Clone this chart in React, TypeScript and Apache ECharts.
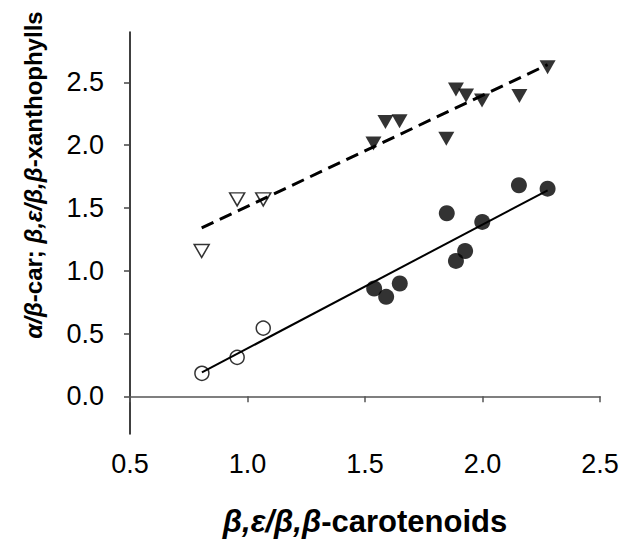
import React, { useEffect, useRef } from "react";
import * as echarts from "echarts";

const xTicks = [0.5, 1.0, 1.5, 2.0, 2.5];
const yTicks = [0.0, 0.5, 1.0, 1.5, 2.0, 2.5];

const openCircleX = [0.806, 0.956, 1.067];
const openCircleY = [0.183, 0.31, 0.543];

const filledCircleX = [1.539, 1.59, 1.648, 1.848, 1.887, 1.926, 1.999, 2.155, 2.277];
const filledCircleY = [0.858, 0.792, 0.898, 1.457, 1.078, 1.157, 1.388, 1.68, 1.653];

const openTriangleX = [0.805, 0.956, 1.067];
const openTriangleY = [1.157, 1.568, 1.568];

const filledTriangleX = [1.536, 1.587, 1.647, 1.846, 1.887, 1.93, 1.998, 2.157, 2.277];
const filledTriangleY = [2.013, 2.183, 2.19, 2.051, 2.443, 2.395, 2.355, 2.39, 2.62];

const solidFitX = [0.806, 2.277];
const solidFitY = [0.19, 1.64];

const dashedFitX = [0.805, 2.277];
const dashedFitY = [1.34, 2.64];

const zip = (xs: number[], ys: number[]) => xs.map((x, i) => [x, ys[i]]);

export default function App() {
  const ref = useRef<HTMLDivElement>(null);
  useEffect(() => {
    if (!ref.current) return;
    const chart = echarts.init(ref.current, null, { renderer: "svg" });
    const font = "'Liberation Sans', Arial, sans-serif";
    chart.setOption({
      animation: false,
      backgroundColor: "#fff",
      grid: { left: 130, right: 22, top: 32, bottom: 107 },
      xAxis: {
        type: "value",
        min: 0.5,
        max: 2.5,
        interval: 0.5,
        splitLine: { show: false },
        axisLine: { lineStyle: { color: "#555", width: 1.5 } },
        axisTick: { show: true, length: 6, lineStyle: { color: "#555", width: 1.5 } },
        axisLabel: {
          margin: 16,
          fontSize: 27,
          fontFamily: font,
          color: "#000",
          formatter: (v: number) => v.toFixed(1),
        },
        name: "{i|β,ε/β,β}{b|-carotenoids}",
        nameLocation: "middle",
        nameGap: 72,
        nameTextStyle: {
          fontFamily: font,
          rich: {
            i: { fontSize: 31, fontWeight: "bold", fontStyle: "italic", fontFamily: font, color: "#000" },
            b: { fontSize: 31, fontWeight: "bold", fontFamily: font, color: "#000" },
          },
        },
      },
      yAxis: {
        type: "value",
        min: -0.3,
        max: 2.9,
        splitLine: { show: false },
        axisLine: { show: true, lineStyle: { color: "#000", width: 1.5 } },
        axisTick: { show: true, length: 6, customValues: yTicks, lineStyle: { color: "#444", width: 1.5 } },
        axisLabel: {
          margin: 26,
          fontSize: 27,
          fontFamily: font,
          color: "#000",
          customValues: yTicks,
          formatter: (v: number) => v.toFixed(1),
        },
      },
      graphic: [
        {
          type: "text",
          x: 33,
          y: 175,
          rotation: Math.PI / 2,
          style: {
            text: "{i|α/β}{b|-car; }{i|β,ε/β,β}{b|-xanthophylls}",
            align: "center",
            verticalAlign: "middle",
            rich: {
              i: { fontSize: 24, fontWeight: "bold", fontStyle: "italic", fontFamily: font, fill: "#000" },
              b: { fontSize: 24, fontWeight: "bold", fontFamily: font, fill: "#000" },
            },
          },
        },
      ],
      series: [
        {
          type: "scatter",
          data: zip(openCircleX, openCircleY),
          symbol: "circle",
          symbolSize: 14,
          itemStyle: { color: "#fff", borderColor: "#000", borderWidth: 1.5 },
          z: 2,
        },
        {
          type: "scatter",
          data: zip(filledCircleX, filledCircleY),
          symbol: "circle",
          symbolSize: 16,
          itemStyle: { color: "#000" },
          z: 2,
        },
        {
          type: "scatter",
          data: zip(openTriangleX, openTriangleY),
          symbol: "triangle",
          symbolRotate: 180,
          symbolSize: [15, 13],
          itemStyle: { color: "#fff", borderColor: "#000", borderWidth: 1.5 },
          z: 2,
        },
        {
          type: "scatter",
          data: zip(filledTriangleX, filledTriangleY),
          symbol: "triangle",
          symbolRotate: 180,
          symbolSize: [16, 14],
          itemStyle: { color: "#000" },
          z: 2,
        },
        {
          type: "line",
          data: zip(solidFitX, solidFitY),
          showSymbol: false,
          lineStyle: { color: "#000", width: 2 },
          z: 3,
        },
        {
          type: "line",
          data: zip(dashedFitX, dashedFitY),
          showSymbol: false,
          lineStyle: { color: "#000", width: 3, type: [13, 7] },
          z: 3,
        },
      ],
    });
    return () => chart.dispose();
  }, []);
  return <div ref={ref} style={{ position: "fixed", left: 0, top: 0, width: 622, height: 542 }} />;
}
